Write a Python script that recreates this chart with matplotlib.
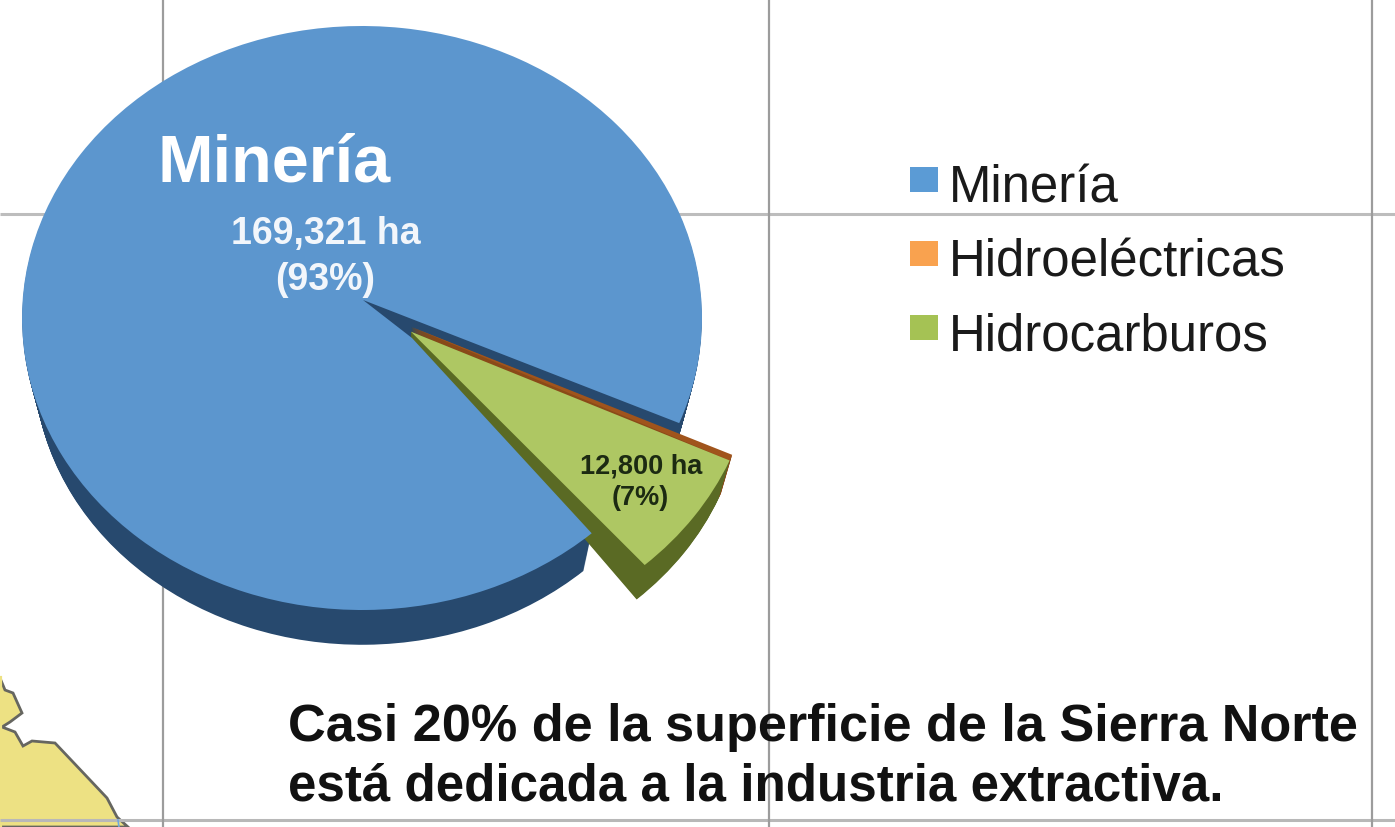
import numpy as np
import matplotlib
matplotlib.use("Agg")
import matplotlib.pyplot as plt
from matplotlib.legend_handler import HandlerPatch
from matplotlib.patches import Patch, Polygon
from matplotlib.path import Path

plt.rcParams['font.family'] = ['Liberation Sans', 'DejaVu Sans']

# --- data ---
categories = ['Minería', 'Hidroeléctricas', 'Hidrocarburos']
hectares = [169321, 600, 12800]
pull_out = [0.0, 0.19, 0.19]
legend_colors = ['#5B9BD5', '#F9A24F', '#A5C254']
top_colors = ['#5C96CE', '#A0541C', '#AEC763']
side_colors = ['#27496E', '#8A4A18', '#5A6A24']
caption = ['Casi 20% de la superficie de la Sierra Norte',
           'está dedicada a la industria extractiva.']

W, H = 1395, 827
CX, CY, RX, RY = 362, 318, 340, 292
START = -47.5
# apex displacement per slice (px right, px up) mimicking the 3-D perspective
APEX_TOP = {0: (1, 18), 1: (-4, 23), 2: (-4, 18)}
APEX_SIDE = {0: (1, 28), 1: (-4, 60), 2: (-4, 55)}
# the lower cut edge of the large slice bends slightly on its way to the apex
BEND = ((412 - CX) / RX, (CY - 338) / RY)

fig = plt.figure(figsize=(W / 100, H / 100), dpi=100, facecolor='white')

# background page: grid and map fragment
bg = fig.add_axes([0, 0, 1, 1], zorder=0)
bg.set_xlim(0, W); bg.set_ylim(H, 0); bg.axis('off')
map_outline = [(0, 678), (5, 690), (13, 693), (22, 713), (10, 722), (2, 727), (15, 732),
               (23, 746), (32, 741), (55, 743), (90, 780), (107, 798), (117, 817),
               (128, 827), (0, 827)]
bg.add_patch(Polygon(map_outline, closed=True, facecolor='#EDE183', edgecolor='#666660', lw=2))
bg.plot([0, 0], [678, 827], color='#EDE183', lw=3)
for y, c in [(213.5, '#BDBDBD'), (819.5, '#B8B8B8')]:
    bg.plot([0, W], [y, y], color=c, lw=2.2, solid_capstyle='butt')
for x in (163, 769, 1372):
    bg.plot([x, x], [0, H], color='#9C9C9C', lw=1.6, solid_capstyle='butt')
bg.plot([118, 119], [820, 827], color='#6FA8DC', lw=1.2)

# pie axes: one data unit = RX px horizontally, RY px vertically
pax = fig.add_axes([0, 0, 1, 1], zorder=1)


def layer(t, dy, colors, show, bend=False):
    """Draw the pie once; t = 0 top face, t = 1 bottom rim of the extrusion."""
    scale = 1 - 0.035 * t
    wedges, _ = pax.pie(hectares, explode=pull_out, startangle=START, counterclock=False,
                        colors=colors, radius=scale,
                        center=(0, -dy * t / RY), wedgeprops=dict(linewidth=0))
    wedges[1].set_center(wedges[2].center)
    for i, w in enumerate(wedges):
        if i not in show:
            w.set_visible(False)
            continue
        p = w.get_path()
        v = p.vertices.copy()
        c = p.codes.copy()
        near = np.hypot(*(v - np.array(w.center)).T) < 1e-6
        ax0, ay0 = APEX_TOP[i]
        ax1, ay1 = APEX_SIDE[i]
        v[near, 0] += (ax0 * (1 - t) + ax1 * t) / RX
        v[near, 1] += (ay0 * (1 - t) + ay1 * t) / RY
        if bend:
            k = int(np.argmax(near))
            v = np.insert(v, k, BEND, axis=0)
            c = np.insert(c, k, Path.LINETO)
        w._path = Path(v, c)
    return wedges


for t in np.linspace(1, 0, 40)[:-1]:
    layer(t, 45, side_colors, {0})
# sides of the pulled-out slices run under the top of the large slice
for t in np.linspace(1, 0, 42)[:-1]:
    layer(t, 42, side_colors, {1, 2})
layer(0, 45, top_colors, {0}, bend=True)
layer(0, 42, top_colors, {1, 2})

pax.set_aspect('auto')
pax.set_xlim(-CX / RX, (W - CX) / RX)
pax.set_ylim(-(H - CY) / RY, CY / RY)
pax.axis('off')

# text layer
tx = fig.add_axes([0, 0, 1, 1], zorder=2)
tx.set_xlim(0, W); tx.set_ylim(H, 0); tx.axis('off'); tx.patch.set_alpha(0)
tx.text(274, 164, categories[0], color='white', fontsize=48, fontweight='bold', ha='center', va='center')
tx.text(326, 234, f'{hectares[0]:,} ha', color='#F2F6FB', fontsize=27, fontweight='bold', ha='center', va='center')
tx.text(325, 280, '(93%)', color='#F2F6FB', fontsize=27, fontweight='bold', ha='center', va='center')
tx.text(641, 466, f'{hectares[2]:,} ha', color='#1C2A12', fontsize=19.5, fontweight='bold', ha='center', va='center')
tx.text(640, 498, '(7%)', color='#1C2A12', fontsize=19.5, fontweight='bold', ha='center', va='center')
tx.text(288, 727, caption[0], color='#111111', fontsize=37.6, fontweight='bold', ha='left', va='center')
tx.text(288, 787, caption[1], color='#111111', fontsize=36.8, fontweight='bold', ha='left', va='center')

handles = [Patch(facecolor=c, edgecolor='none') for c in legend_colors]
tx.legend(handles, categories, frameon=False, fontsize=36.7, labelcolor='#1A1A1A',
          loc='upper left', bbox_to_anchor=(900 / W, 1 - 154 / H), bbox_transform=fig.transFigure,
          handlelength=0.55, handleheight=0.66, handletextpad=0.2, labelspacing=0.49,
          borderpad=0.2, borderaxespad=0,
          handler_map={Patch: HandlerPatch(ypad=0.18)})

fig.savefig('out.png', dpi=100)
